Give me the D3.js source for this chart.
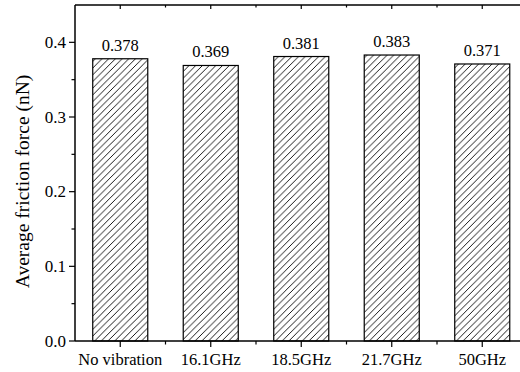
<!DOCTYPE html>
<html><head><meta charset="utf-8">
<script src="https://cdn.jsdelivr.net/npm/d3@7"></script>
<style>body{margin:0;background:#fff}svg{display:block}text{font-family:"Liberation Serif","Times New Roman",serif;fill:#000}</style>
</head><body>
<svg id="c" width="520" height="372"></svg>
<script>
const categories = ["No vibration","16.1GHz","18.5GHz","21.7GHz","50GHz"];
const values = [0.378,0.369,0.381,0.383,0.371];
const valueLabels = ["0.378","0.369","0.381","0.383","0.371"];
const yTicks = [0.0,0.1,0.2,0.3,0.4];
const yMinorTicks = [0.05,0.15,0.25,0.35];

(function(){
const svg = d3.select("#c");
const mL = 75, mR = 527.5, mT = 5, mB = 341;
const x = d3.scaleBand().domain(categories).range([mL,mR]).padding(0);
const y = d3.scaleLinear().domain([0,0.45]).range([mB,mT]);

const w = 6.7;
const defs = svg.append("defs");
const pat = defs.append("pattern").attr("id","hatch").attr("patternUnits","userSpaceOnUse")
  .attr("width",w).attr("height",w);
pat.append("rect").attr("width",w).attr("height",w).attr("fill","#fff");
pat.append("path").attr("d",`M0,${w} L${w},0 M-1,1 L1,-1 M${w-1},${w+1} L${w+1},${w-1}`)
  .attr("stroke","#000").attr("stroke-width",0.9);

const bw = x.bandwidth()*0.608;
svg.selectAll("rect.bar").data(values).join("rect").attr("class","bar")
  .attr("x",(d,i)=>x(categories[i])+x.bandwidth()/2-bw/2)
  .attr("y",d=>y(d)).attr("width",bw).attr("height",d=>mB-y(d))
  .attr("fill","url(#hatch)").attr("stroke","#000").attr("stroke-width",1.2);

svg.selectAll("text.val").data(values).join("text").attr("class","val")
  .attr("x",(d,i)=>x(categories[i])+x.bandwidth()/2).attr("y",d=>y(d)-8)
  .attr("text-anchor","middle").attr("font-size",16.5).text((d,i)=>valueLabels[i]);

const ax = svg.append("g").attr("stroke","#000").attr("stroke-width",1.5).attr("fill","none");
ax.append("line").attr("x1",mL).attr("x2",mR).attr("y1",mB).attr("y2",mB);
ax.append("line").attr("x1",mL).attr("x2",mR).attr("y1",mT).attr("y2",mT);
ax.append("line").attr("x1",mL).attr("x2",mL).attr("y1",mT).attr("y2",mB);

const tg = svg.append("g").attr("stroke","#000").attr("stroke-width",1.2);
yTicks.forEach(t=>tg.append("line").attr("x1",mL-6).attr("x2",mL).attr("y1",y(t)).attr("y2",y(t)));
yMinorTicks.forEach(t=>tg.append("line").attr("x1",mL-3.5).attr("x2",mL).attr("y1",y(t)).attr("y2",y(t)));
svg.selectAll("text.yt").data(yTicks).join("text").attr("class","yt")
  .attr("x",mL-9).attr("y",d=>y(d)).attr("dy","0.34em").attr("text-anchor","end")
  .attr("font-size",17).text(d=>d.toFixed(1));

categories.forEach((c,i)=>{
  const cx = x(c)+x.bandwidth()/2;
  tg.append("line").attr("x1",cx).attr("x2",cx).attr("y1",mB).attr("y2",mB+6);
  tg.append("line").attr("x1",cx).attr("x2",cx).attr("y1",mT).attr("y2",mT+4);
  if(i>0){
    const bx = x(c);
    tg.append("line").attr("x1",bx).attr("x2",bx).attr("y1",mB).attr("y2",mB+3.5);
    tg.append("line").attr("x1",bx).attr("x2",bx).attr("y1",mT).attr("y2",mT+2.5);
  }
});
svg.selectAll("text.xt").data(categories).join("text").attr("class","xt")
  .attr("x",d=>x(d)+x.bandwidth()/2).attr("y",365).attr("text-anchor","middle")
  .attr("font-size",16.5).text(d=>d);

svg.append("text").attr("transform","translate(29,181.5) rotate(-90)")
  .attr("text-anchor","middle").attr("font-size",19.5).text("Average friction force (nN)");
})();
</script>
</body></html>
